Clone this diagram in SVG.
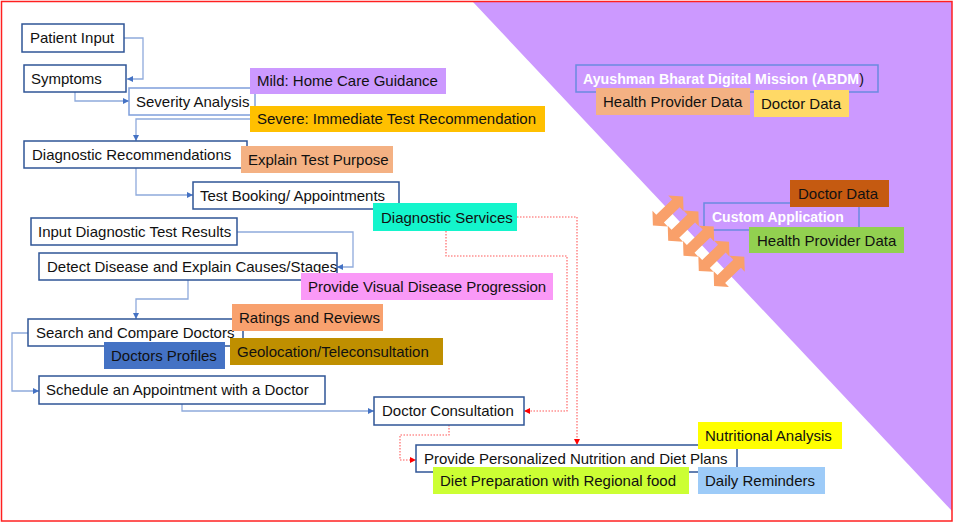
<svg xmlns="http://www.w3.org/2000/svg" width="956" height="522" viewBox="0 0 956 522">
<style>
text{font-family:"Liberation Sans",Arial,sans-serif;font-size:15px;fill:#111}
.n{fill:#fff;stroke:#2F5597;stroke-width:1.5}
.nl{fill:#fff;stroke:#7F9FDB;stroke-width:1.5}
.c{fill:none;stroke:#8FAADC;stroke-width:1.3}
.r{fill:none;stroke:#FF5A5A;stroke-width:1.1;stroke-dasharray:1.5 1.5}
.w{fill:#fff;font-weight:bold}
.ob{fill:none;stroke:#6A8AE0;stroke-width:1.5}
</style>
<defs>
<marker id="ab" markerUnits="userSpaceOnUse" markerWidth="7" markerHeight="7" refX="6" refY="3" orient="auto"><path d="M0,0 L6,3 L0,6 z" fill="#4472C4"/></marker>
<marker id="ar" markerUnits="userSpaceOnUse" markerWidth="7" markerHeight="7" refX="6" refY="3" orient="auto"><path d="M0,0 L6,3 L0,6 z" fill="#FF0000"/></marker>
<polygon id="dar" points="-21,0 -11,-11 -11,-5.5 11,-5.5 11,-11 21,0 11,11 11,5.5 -11,5.5 -11,11" fill="#F9A06A"/>
</defs>
<rect x="0" y="0" width="956" height="522" fill="#fff"/>
<polygon points="473,2 952,2 952,511" fill="#CC99FF"/>
<rect x="1.5" y="1.5" width="950.5" height="519.5" fill="none" stroke="#FF2020" stroke-width="1.5"/>

<g id="connectors">
<path class="c" d="M124,38 H143 V79 H127" marker-end="url(#ab)"/>
<path class="c" d="M75,92 V101 H129" marker-end="url(#ab)"/>
<path class="c" d="M252,119 H136 V141" marker-end="url(#ab)"/>
<path class="c" d="M136,168 V195 H193" marker-end="url(#ab)"/>
<path class="c" d="M237,232 H353 V267 H337" marker-end="url(#ab)"/>
<path class="c" d="M188,280 V299 H136 V319" marker-end="url(#ab)"/>
<path class="c" d="M28,333 H12 V391 H39" marker-end="url(#ab)"/>
<path class="c" d="M182,404 V411 H374" marker-end="url(#ab)"/>
<path class="r" d="M517,217 H577 V445" marker-end="url(#ar)"/>
<path class="r" d="M446,231 V256 H567 V411 H524" marker-end="url(#ar)"/>
<path class="r" d="M449,425 V435 H400 V460 H416" marker-end="url(#ar)"/>
</g>

<g id="patient-input"><rect class="n" x="22" y="24" width="102" height="28"/><text x="30" y="43">Patient Input</text></g>
<g id="symptoms"><rect class="n" x="24" y="65" width="102" height="27"/><text x="31" y="83.5">Symptoms</text></g>
<g id="severity-analysis"><rect class="nl" x="129" y="88" width="126" height="27"/><text x="136" y="106.5">Severity Analysis</text></g>
<g id="diagnostic-recommendations"><rect class="n" x="24" y="141" width="223" height="27"/><text x="32" y="160">Diagnostic Recommendations</text></g>
<g id="test-booking"><rect class="n" x="193" y="182" width="206" height="27"/><text x="200" y="201">Test Booking/ Appointments</text></g>
<g id="input-results"><rect class="n" x="31" y="218" width="206" height="27"/><text x="38" y="237">Input Diagnostic Test Results</text></g>
<g id="detect-disease"><rect class="n" x="39" y="253" width="298" height="27"/><text x="47" y="272">Detect Disease and Explain Causes/Stages</text></g>
<g id="search-doctors"><rect class="n" x="28" y="319" width="215" height="27"/><text x="36" y="338">Search and Compare Doctors</text></g>
<g id="schedule"><rect class="n" x="39" y="376" width="286" height="28"/><text x="46" y="395">Schedule an Appointment with a Doctor</text></g>
<g id="doctor-consultation"><rect class="n" x="374" y="397" width="150" height="28"/><text x="382" y="416">Doctor Consultation</text></g>
<g id="nutrition-plans"><rect class="n" x="416" y="445" width="321" height="27"/><text x="424" y="464">Provide Personalized Nutrition and Diet Plans</text></g>

<g id="mild"><rect x="250" y="68" width="196" height="26" fill="#CC99FF"/><text x="257" y="86">Mild: Home Care Guidance</text></g>
<g id="severe"><rect x="250" y="106" width="295" height="26" fill="#FFC000"/><text x="257" y="124">Severe: Immediate Test Recommendation</text></g>
<g id="explain-test"><rect x="241" y="146" width="152" height="27" fill="#F4B183"/><text x="248" y="165">Explain Test Purpose</text></g>
<g id="diagnostic-services"><rect x="373" y="203" width="144" height="28" fill="#14F5CC"/><text x="381" y="222.5">Diagnostic Services</text></g>
<g id="visual-progression"><rect x="301" y="273" width="252" height="27" fill="#FA99F7"/><text x="308" y="291.5">Provide Visual Disease Progression</text></g>
<g id="ratings"><rect x="232" y="304" width="151" height="27" fill="#F8A16E"/><text x="239" y="323">Ratings and Reviews</text></g>
<g id="geolocation"><rect x="230" y="338" width="213" height="27" fill="#BF8F00"/><text x="237" y="357">Geolocation/Teleconsultation</text></g>
<g id="doctor-profiles"><rect x="104" y="342" width="121" height="27" fill="#4472C4"/><text x="111" y="361">Doctors Profiles</text></g>
<g id="nutritional-analysis"><rect x="698" y="422" width="144" height="27" fill="#FFFF00"/><text x="705" y="441">Nutritional Analysis</text></g>
<g id="diet-prep"><rect x="433" y="467" width="256" height="27" fill="#CCFF33"/><text x="440" y="486">Diet Preparation with Regional food</text></g>
<g id="daily-reminders"><rect x="698" y="467" width="127" height="27" fill="#9DCBF8"/><text x="705" y="486">Daily Reminders</text></g>

<g id="abdm"><rect class="ob" x="576" y="65" width="302" height="27"/><text x="583" y="84" class="w" style="font-size:14.2px">Ayushman Bharat Digital Mission (ABDM<tspan style="fill:#111;font-weight:normal">)</tspan></text></g>
<g id="abdm-health-provider"><rect x="596" y="88" width="154" height="27" fill="#F4B183"/><text x="603" y="107">Health Provider Data</text></g>
<g id="abdm-doctor-data"><rect x="754" y="90" width="95" height="27" fill="#FFD966"/><text x="761" y="109">Doctor Data</text></g>

<g id="custom-app"><rect class="ob" x="704" y="203" width="155" height="27"/><text x="712" y="222" class="w" style="font-size:14px">Custom Application</text></g>
<g id="custom-doctor-data"><rect x="790" y="180" width="99" height="27" fill="#C55A11"/><text x="798" y="199">Doctor Data</text></g>
<g id="custom-health-provider"><rect x="749" y="227" width="155" height="26" fill="#92D050"/><text x="757" y="245.5">Health Provider Data</text></g>

<g id="sync-arrows">
<use href="#dar" transform="translate(668,211) rotate(-44)"/>
<use href="#dar" transform="translate(683.3,226.1) rotate(-44)"/>
<use href="#dar" transform="translate(698.6,241.2) rotate(-44)"/>
<use href="#dar" transform="translate(713.9,256.3) rotate(-44)"/>
<use href="#dar" transform="translate(729.2,271.4) rotate(-44)"/>
</g>
</svg>
